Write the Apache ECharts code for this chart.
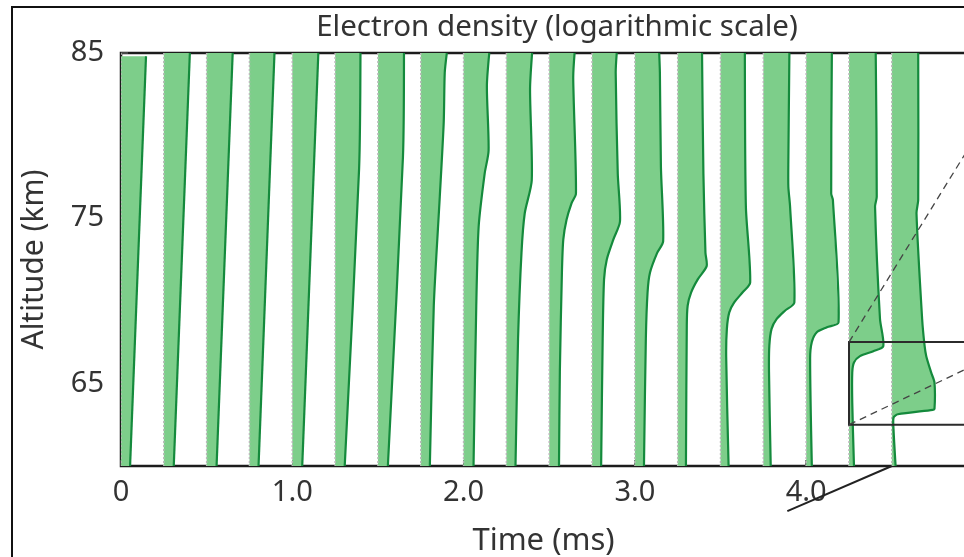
<!DOCTYPE html>
<html>
<head>
<meta charset="utf-8">
<title>Electron density profiles</title>
<script src="https://cdn.jsdelivr.net/npm/echarts@6/dist/echarts.min.js"></script>
<style>
  html, body { margin: 0; padding: 0; background: #fff; }
  #chart { width: 964px; height: 557px; }
</style>
</head>
<body>
<div id="chart"></div>
<script>
// start time of each profile (ms)
const startTimes = [0, 0.25, 0.5, 0.75, 1.0, 1.25, 1.5, 1.75, 2.0, 2.25, 2.5, 2.75, 3.0, 3.25, 3.5, 3.75, 4.0, 4.25, 4.5]

// each profile: [altitude km, log density drawn as width in ms]
const profiles = [
    [[84.8, 0.146], [60, 0.053]],
    [[85, 0.152], [60, 0.058]],
    [[85, 0.152], [60, 0.058]],
    [[85, 0.146], [60, 0.053]],
    [[85, 0.152], [60, 0.058]],
    [[85, 0.148], [78, 0.140], [60, 0.056]],
    [[85, 0.152], [78.7, 0.146], [60, 0.058]],
    [[85, 0.152], [83.8, 0.140], [80.8, 0.134], [76.3, 0.111], [69.7, 0.076], [60, 0.053]],
    [[85, 0.150], [83, 0.136], [79.1, 0.146], [77.7, 0.123], [74.5, 0.088], [69.7, 0.074], [60, 0.058]],
    [[85, 0.150], [82.8, 0.138], [77.3, 0.148], [75.3, 0.107], [72.9, 0.088], [67.7, 0.068], [60, 0.053]],
    [[85, 0.148], [83.5, 0.140], [76.5, 0.156], [75.9, 0.130], [74.9, 0.101], [73.7, 0.082], [71.7, 0.074], [65.7, 0.062], [60, 0.057]],
    [[85, 0.144], [83.8, 0.138], [77.7, 0.150], [74.8, 0.163], [73.7, 0.124], [72.5, 0.086], [71.3, 0.070], [67.7, 0.062], [60, 0.053]],
    [[85, 0.142], [83.8, 0.146], [78.1, 0.152], [73.6, 0.165], [72.9, 0.130], [71.7, 0.088], [70.5, 0.074], [67.7, 0.064], [60, 0.053]],
    [[85, 0.142], [77.7, 0.150], [72.9, 0.162], [72.1, 0.169], [71.3, 0.117], [70.5, 0.078], [69.7, 0.058], [68.5, 0.053], [60, 0.048]],
    [[85, 0.142], [75.7, 0.148], [71.1, 0.173], [70.5, 0.128], [69.9, 0.080], [69.3, 0.051], [68.3, 0.037], [66.6, 0.033], [60, 0.047]],
    [[85, 0.152], [78.5, 0.146], [76.9, 0.146], [75.7, 0.156], [69.9, 0.181], [69.4, 0.126], [68.9, 0.078], [68.3, 0.048], [67.3, 0.035], [65.7, 0.033], [60, 0.043]],
    [[85, 0.150], [76.5, 0.146], [76.1, 0.156], [68.7, 0.189], [68.4, 0.121], [68.1, 0.062], [67.5, 0.033], [66.5, 0.023], [60, 0.033]],
    [[85, 0.156], [76.3, 0.162], [75.7, 0.152], [68.9, 0.181], [67.25, 0.200], [66.95, 0.142], [66.65, 0.064], [66.27, 0.029], [65.66, 0.019], [63.85, 0.019], [60, 0.029]],
    [[85, 0.154], [76.1, 0.154], [75.3, 0.144], [68.9, 0.177], [67.3, 0.191], [66.65, 0.201], [65.65, 0.230], [65.05, 0.249], [63.45, 0.249], [63.4, 0.239], [63.13, 0.035], [62.93, 0.010], [62.2, 0.010], [60, 0.022]]
]

const altTicks = [65, 75, 85]
const timeTicks = [0, 1, 2, 3, 4]

// zoom box + guide lines (time ms, altitude km)
const insetTimes = [4.25, 5.3]
const insetAlts = [62.5, 67.5]
const guideLines = [
    [[4.25, 67.5], [4.94, 79.1]],
    [[4.25, 62.5], [4.94, 65.9]]
]
const pointerLine = [[4.5, 60], [3.89, 57.27]]

const fillColor = '#7dce8a'
const edgeColor = '#148a3c'
const textColor = '#333'
const fontFamily = 'Noto Sans'

const chart = echarts.init(document.getElementById('chart'))

function renderProfile(params, api) {
    const t0 = api.value(0)
    const prof = profiles[params.dataIndex]
    const curve = prof.map(p => api.coord([t0 + p[1], p[0]]))
    const top = api.coord([t0, prof[0][0]])
    const bottom = api.coord([t0, prof[prof.length - 1][0]])
    const a = api.coord([t0, 85])
    const b = api.coord([t0, 60])
    return {
        type: 'group',
        children: [
            {
                type: 'polygon',
                shape: { points: curve.concat([bottom, top]) },
                style: { fill: fillColor }
            },
            {
                type: 'line',
                shape: { x1: a[0], y1: a[1], x2: b[0], y2: b[1] },
                style: { stroke: '#b9b9b9', lineWidth: 1.5, lineDash: [2, 2] }
            },
            {
                type: 'polyline',
                shape: { points: curve, smooth: 0.25 },
                style: { stroke: edgeColor, lineWidth: 2.2, fill: null }
            }
        ]
    }
}

function renderInset(params, api) {
    const p1 = api.coord([insetTimes[0], insetAlts[1]])
    const p2 = api.coord([insetTimes[1], insetAlts[0]])
    const children = [{
        type: 'rect',
        shape: { x: p1[0], y: p1[1], width: p2[0] - p1[0], height: p2[1] - p1[1] },
        style: { fill: null, stroke: '#2b2b2b', lineWidth: 2 }
    }]
    guideLines.forEach(l => {
        const s = api.coord(l[0])
        const e = api.coord(l[1])
        children.push({
            type: 'line',
            shape: { x1: s[0], y1: s[1], x2: e[0], y2: e[1] },
            style: { stroke: '#444', lineWidth: 1.3, lineDash: [7, 5] }
        })
    })
    const s = api.coord(pointerLine[0])
    const e = api.coord(pointerLine[1])
    children.push({
        type: 'line',
        shape: { x1: s[0], y1: s[1], x2: e[0], y2: e[1] },
        style: { stroke: '#222', lineWidth: 2 }
    })
    return { type: 'group', children: children }
}

const option = {
    animation: false,
    title: {
        text: 'Electron density (logarithmic scale)',
        left: 552,
        top: 8,
        textAlign: 'center',
        textStyle: { fontFamily: fontFamily, fontSize: 29.5, fontWeight: 'normal', color: textColor }
    },
    graphic: [{
        type: 'rect',
        shape: { x: 12, y: 7, width: 1000, height: 600 },
        style: { fill: null, stroke: '#111', lineWidth: 2 },
        silent: true
    }],
    grid: {
        left: 121,
        top: 53,
        right: -2,
        bottom: 91,
        outerBoundsMode: 'none',
        show: true,
        borderColor: '#1c1c1c',
        borderWidth: 2.5,
        backgroundColor: 'transparent'
    },
    xAxis: {
        type: 'value',
        min: 0,
        max: 4.933,
        name: 'Time (ms)',
        nameLocation: 'middle',
        nameGap: 60,
        nameTextStyle: { fontFamily: fontFamily, fontSize: 31, color: textColor },
        axisLine: { show: false },
        splitLine: { show: false },
        axisTick: { customValues: timeTicks, inside: true, length: 6, lineStyle: { color: '#555', width: 1.5 } },
        axisLabel: {
            customValues: timeTicks,
            margin: 12,
            fontFamily: fontFamily,
            fontSize: 29,
            color: textColor,
            formatter: v => v === 0 ? '0' : v.toFixed(1)
        }
    },
    yAxis: {
        type: 'value',
        min: 60,
        max: 85,
        name: 'Altitude (km)',
        nameLocation: 'middle',
        nameGap: 72,
        nameTextStyle: { fontFamily: fontFamily, fontSize: 30, color: textColor },
        axisLine: { show: false },
        splitLine: { show: false },
        axisTick: { customValues: altTicks, inside: true, length: 7, lineStyle: { color: '#555', width: 1.5 } },
        axisLabel: {
            customValues: altTicks,
            margin: 17,
            fontFamily: fontFamily,
            fontSize: 29,
            color: textColor
        }
    },
    series: [
        {
            type: 'custom',
            name: 'profiles',
            renderItem: renderProfile,
            data: startTimes.map(t => [t, 85]),
            encode: { x: 0, y: 1 },
            clip: true,
            z: 2
        },
        {
            type: 'custom',
            name: 'inset',
            renderItem: renderInset,
            data: [[4.5, 60]],
            encode: { x: 0, y: 1 },
            clip: false,
            z: 3
        }
    ]
}

chart.setOption(option)
</script>
</body>
</html>
